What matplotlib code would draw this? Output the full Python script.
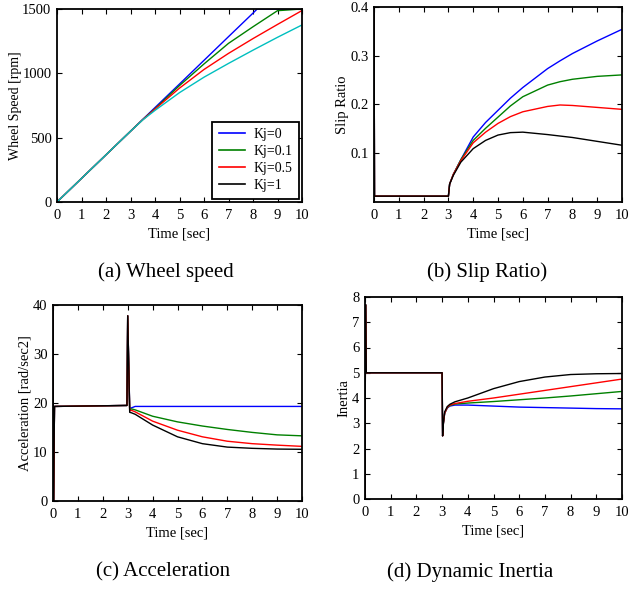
import numpy as np
import matplotlib
matplotlib.use("Agg")
import matplotlib.pyplot as plt
from matplotlib.lines import Line2D

plt.rcParams['font.family'] = ['Liberation Serif', 'DejaVu Serif']
plt.rcParams['xtick.direction'] = 'in'
plt.rcParams['ytick.direction'] = 'in'
plt.rcParams['xtick.top'] = True
plt.rcParams['ytick.right'] = True

colors = ['#0000ff', '#008000', '#ff0000', '#000000']
labels = ['Kj=0', 'Kj=0.1', 'Kj=0.5', 'Kj=1']

# (a) wheel speed
t_speed_blue = [0, 3, 4, 5, 6, 7, 8, 8.17, 10]
speed_blue = [0, 550, 734, 917, 1101, 1285, 1468, 1500, 1500]
t_speed = [0, 3, 3.5, 4, 5, 6, 7, 8, 9, 10]
speed_green = [0, 550, 640, 725, 905, 1073, 1233, 1362, 1487, 1500]
speed_red = [0, 550, 640, 722, 885, 1030, 1155, 1270, 1380, 1488]
speed_cyan = [0, 550, 638, 712, 850, 970, 1077, 1180, 1280, 1376]

# (b) slip ratio
t_slip = [0, 0.02, 3.0, 3.05, 3.2, 3.5, 4, 4.5, 5, 5.5, 6, 7, 7.5, 8, 9, 10]
slip_blue = [0.45, 0.01, 0.01, 0.035, 0.055, 0.085, 0.132, 0.162, 0.187, 0.212, 0.234, 0.273, 0.289, 0.304, 0.330, 0.354]
slip_green = [0.45, 0.01, 0.01, 0.035, 0.055, 0.085, 0.125, 0.150, 0.173, 0.196, 0.215, 0.239, 0.246, 0.251, 0.257, 0.260]
slip_red = [0.45, 0.01, 0.01, 0.035, 0.055, 0.083, 0.120, 0.142, 0.160, 0.174, 0.184, 0.195, 0.198, 0.197, 0.193, 0.189]
slip_black = [0.45, 0.01, 0.01, 0.035, 0.053, 0.080, 0.108, 0.125, 0.136, 0.141, 0.142, 0.137, 0.134, 0.131, 0.123, 0.115]

# (c) acceleration
t_acc = [0, 0.02, 0.06, 2.97, 3.0, 3.08, 3.15, 3.3, 4, 5, 6, 7, 8, 9, 10]
acc_blue = [45, 0, 19.3, 19.5, 37.8, 18.9, 19.0, 19.3, 19.3, 19.3, 19.3, 19.3, 19.3, 19.3, 19.3]
acc_green = [45, 0, 19.3, 19.5, 37.8, 18.6, 18.8, 18.6, 17.3, 16.15, 15.3, 14.6, 14.0, 13.5, 13.3]
acc_red = [45, 0, 19.3, 19.5, 37.8, 18.4, 18.5, 18.2, 16.3, 14.45, 13.1, 12.2, 11.7, 11.4, 11.15]
acc_black = [45, 0, 19.3, 19.5, 37.8, 18.1, 18.0, 17.7, 15.5, 13.1, 11.7, 11.0, 10.75, 10.6, 10.55]

# (d) dynamic inertia
t_in = [0, 0.02, 0.05, 3.0, 3.02, 3.05, 3.1, 3.2, 3.3, 3.5, 4, 5, 6, 7, 8, 9, 10]
in_blue = [0, 7.7, 5.0, 5.0, 2.5, 3.0, 3.4, 3.6, 3.68, 3.72, 3.72, 3.68, 3.64, 3.62, 3.60, 3.58, 3.57]
in_green = [0, 7.7, 5.0, 5.0, 2.5, 3.0, 3.4, 3.62, 3.7, 3.76, 3.80, 3.86, 3.93, 4.00, 4.08, 4.17, 4.26]
in_red = [0, 7.7, 5.0, 5.0, 2.5, 3.0, 3.4, 3.63, 3.72, 3.78, 3.87, 4.00, 4.15, 4.30, 4.45, 4.60, 4.75]
in_black = [0, 7.7, 5.0, 5.0, 2.5, 3.0, 3.45, 3.66, 3.75, 3.85, 4.00, 4.37, 4.65, 4.83, 4.93, 4.96, 4.97]

fig = plt.figure(figsize=(6.37, 5.89), dpi=100)
W, H = 637, 589


def make_ax(l, r, t, b):
    ax = fig.add_axes([l / W, 1 - b / H, (r - l) / W, (b - t) / H])
    for s in ax.spines.values():
        s.set_linewidth(1.3)
    ax.tick_params(labelsize=10.5, length=3.5, width=0.8)
    ax.tick_params(axis='x', pad=5)
    ax.tick_params(axis='y', pad=4)
    ax.set_xlim(0, 10)
    ax.set_xticks(range(11))
    ax.set_xlabel('Time [sec]', fontsize=10.5, labelpad=4)
    return ax


lw = 1.0
ax1 = make_ax(57, 302, 9, 202)
ax1.plot(t_speed_blue, speed_blue, color=colors[0], lw=lw)
ax1.plot(t_speed, speed_green, color=colors[1], lw=lw)
ax1.plot(t_speed, speed_red, color=colors[2], lw=lw)
ax1.plot(t_speed, speed_cyan, color='#00bfbf', lw=lw)
ax1.set_ylim(0, 1500)
ax1.set_yticks([0, 500, 1000, 1500])
ax1.set_ylabel('Wheel Speed [rpm]', fontsize=10, labelpad=0)
handles = [Line2D([], [], color=c, lw=1.2) for c in colors]
leg = ax1.legend(handles, labels, loc='lower right', fontsize=10, fancybox=False,
                 edgecolor='black', framealpha=1, borderaxespad=0.25,
                 handlelength=1.9, handletextpad=0.6, labelspacing=0.3, borderpad=0.45)
leg.get_frame().set_linewidth(1.3)

ax2 = make_ax(374, 622, 7, 202)
for y, c in zip([slip_blue, slip_green, slip_red, slip_black], colors):
    ax2.plot(t_slip, y, color=c, lw=lw)
ax2.set_ylim(-0.002, 0.4)
ax2.set_yticks([0.1, 0.2, 0.3, 0.4])
ax2.set_ylabel('Slip Ratio', fontsize=10.5, labelpad=1)

ax3 = make_ax(53, 302, 305, 501)
for y, c in zip([acc_blue, acc_green, acc_red, acc_black], colors):
    ax3.plot(t_acc, y, color=c, lw=lw)
ax3.set_ylim(0, 40)
ax3.set_yticks([0, 10, 20, 30, 40])
ax3.set_ylabel('Acceleration [rad/sec2]', fontsize=10.5, labelpad=1)

ax4 = make_ax(365, 622, 297, 499)
for y, c in zip([in_blue, in_green, in_red, in_black], colors):
    ax4.plot(t_in, y, color=c, lw=lw)
ax4.set_ylim(0, 8)
ax4.set_yticks(range(9))
ax4.set_ylabel('Inertia', fontsize=10.5, labelpad=1)

cap = dict(fontsize=15, ha='center', va='center')
fig.text(166 / W, 1 - 272 / H, '(a) Wheel speed', **cap)
fig.text(487 / W, 1 - 272 / H, '(b) Slip Ratio)', **cap)
fig.text(163 / W, 1 - 572 / H, '(c) Acceleration', **cap)
fig.text(470 / W, 1 - 572 / H, '(d) Dynamic Inertia', **cap)

fig.savefig('out.png', dpi=100)
